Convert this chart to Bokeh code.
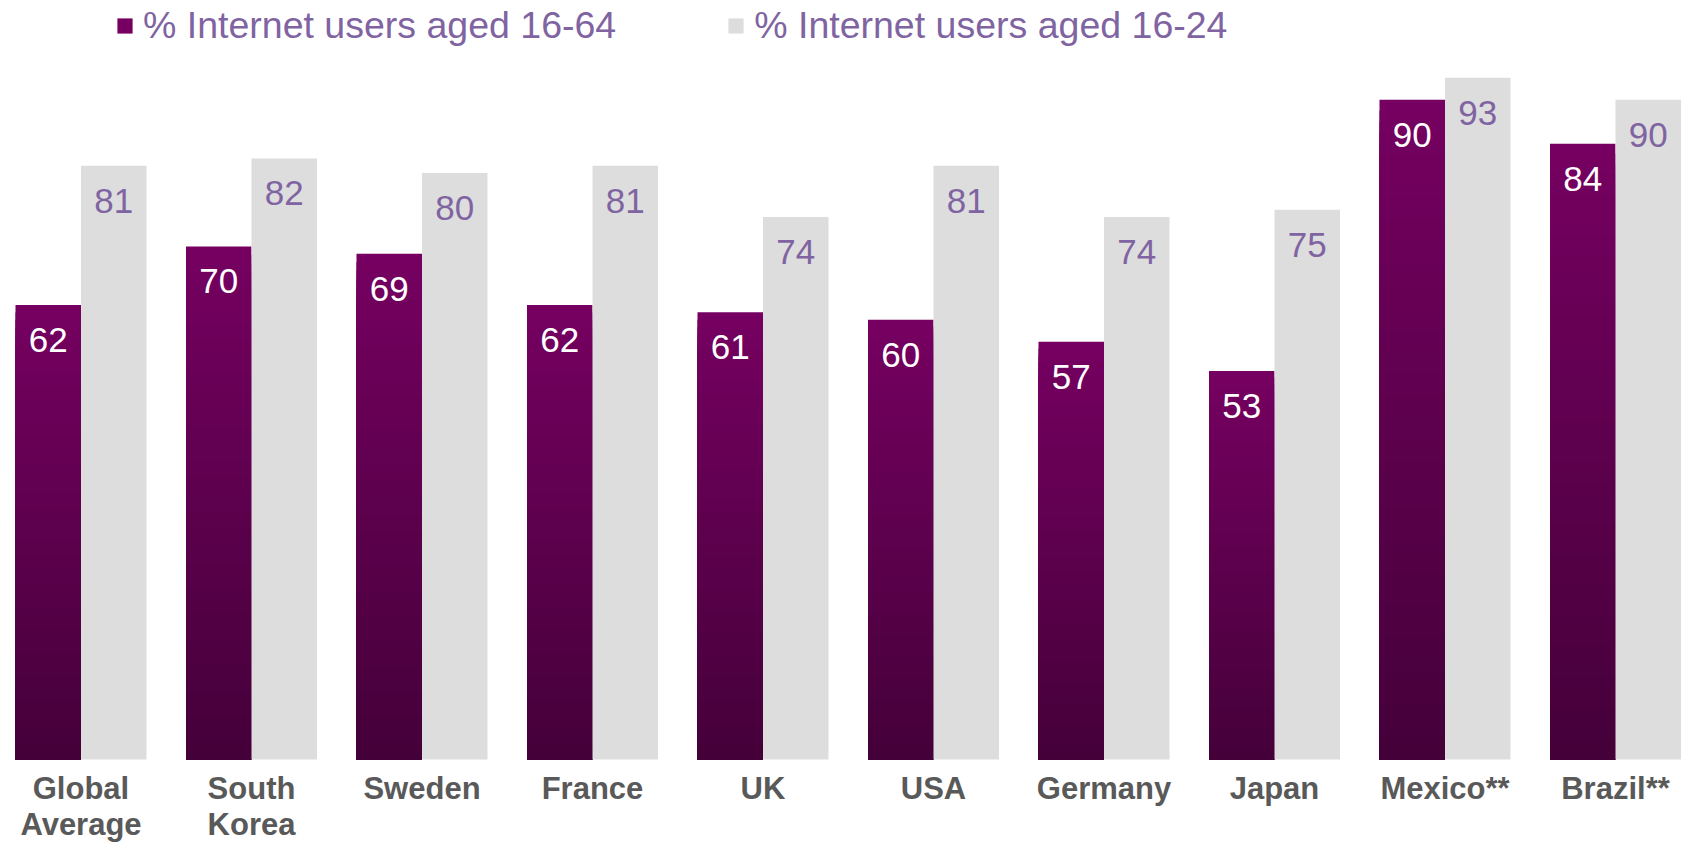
from bokeh.plotting import figure
from bokeh.models import ColumnDataSource, Range1d, Legend, LegendItem
from bokeh.transform import dodge
from bokeh.core.properties import value
from bokeh.embed import file_html
from bokeh.resources import INLINE

# ---- data ----
categories = ["Global\nAverage", "South\nKorea", "Sweden", "France", "UK", "USA",
              "Germany", "Japan", "Mexico**", "Brazil**"]
users_16_64 = [62, 70, 69, 62, 61, 60, 57, 53, 90, 84]
users_16_24 = [81, 82, 80, 81, 74, 81, 74, 75, 93, 90]
series_names = ["% Internet users aged 16-64", "% Internet users aged 16-24"]

# ---- style ----
W, H = 1683, 847
PURPLE_TOP = (118, 0, 97)
PURPLE_BOT = (68, 0, 57)
GREY = "#DDDDDD"
LABEL_PURPLE = "#8064A2"
CAT_GREY = "#595959"
FONT = "Liberation Sans"
SPACING = 170.5          # px per category
BAR_PX = 65.5
BAR_W = BAR_PX / SPACING
OFF = BAR_W / 2
CENTER0 = 80.5           # px of first group centre
Y0_PX, Y100_PX = 759.0, 26.0
PX_PER_UNIT = (Y0_PX - Y100_PX) / 100.0
NSEG = 60

idx = list(range(len(categories)))

x_start = -CENTER0 / SPACING
y_end = Y0_PX / PX_PER_UNIT
y_start = -(H - Y0_PX) / PX_PER_UNIT

p = figure(width=W, height=H, output_backend="svg", toolbar_location=None,
           x_range=Range1d(x_start, x_start + W / SPACING),
           y_range=Range1d(y_start, y_end),
           min_border=0, outline_line_color=None, x_axis_location=None,
           y_axis_location=None)
p.grid.visible = False
p.background_fill_color = "white"
p.border_fill_color = "white"

# gradient purple bars: overlapping bars from 0 up to a fraction of the value,
# tallest (brightest) drawn first, shorter darker ones over them
xs, tops, cols = [], [], []
for k in range(NSEG - 1, -1, -1):
    t = (k + 0.5) / NSEG
    c = tuple(int(round(PURPLE_BOT[j] + (PURPLE_TOP[j] - PURPLE_BOT[j]) * t)) for j in range(3))
    for i, v in zip(idx, users_16_64):
        xs.append(i)
        tops.append(v * (k + 1) / NSEG)
        cols.append("#%02x%02x%02x" % c)
seg_src = ColumnDataSource(dict(x=xs, top=tops, color=cols))
r1 = p.vbar(x=dodge("x", -OFF), bottom=0, top="top", width=BAR_W, source=seg_src,
            fill_color="color", line_color=None)

src = ColumnDataSource(dict(x=idx, cat=categories, a=users_16_64, b=users_16_24,
                            la=[str(v) for v in users_16_64], lb=[str(v) for v in users_16_24]))
r2 = p.vbar(x=dodge("x", OFF), top="b", width=BAR_W, source=src,
            fill_color=GREY, line_color=None)

# value labels
p.text(x=dodge("x", -OFF), y="a", text="la", source=src, text_align="center",
       text_baseline="alphabetic", y_offset=35, text_color="white",
       text_font=value(FONT), text_font_size="35px")
p.text(x=dodge("x", OFF), y="b", text="lb", source=src, text_align="center",
       text_baseline="alphabetic", y_offset=35, text_color=LABEL_PURPLE,
       text_font=value(FONT), text_font_size="35px")

# category labels
cat_src = ColumnDataSource(dict(x=idx, y=[0] * len(idx), cat=categories))
p.text(x="x", y="y", text="cat", source=cat_src, text_align="center",
       text_baseline="top", y_offset=11, text_color=CAT_GREY,
       text_font=value(FONT), text_font_size="31px", text_font_style="bold",
       text_line_height=1.03)

legend = Legend(items=[LegendItem(label=series_names[0], renderers=[r1], index=0),
                       LegendItem(label=series_names[1], renderers=[r2])],
                orientation="horizontal", location=(115, 800),
                label_text_font=FONT, label_text_font_size="37.5px",
                label_text_color=LABEL_PURPLE, glyph_width=19, glyph_height=19,
                label_standoff=9, spacing=110, padding=0, margin=0,
                border_line_alpha=0, background_fill_alpha=0)
p.add_layout(legend, "center")

open("out.html", "w").write(file_html(p, INLINE))
